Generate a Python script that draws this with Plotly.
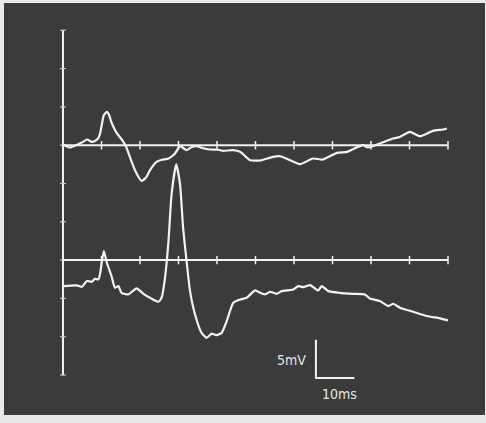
import plotly.graph_objects as go

# Time axis (ms) and voltage (mV, relative to each trace's baseline)
t1 = [0, 1.8, 3.4, 5.2, 6.2, 7.5, 8.3, 9.0, 9.6, 10.1, 10.6, 11.4, 12.0, 12.5, 13.0, 13.8, 14.8, 15.6,
      16.4, 17.4, 18.7, 20.4, 21.6, 22.6, 24.3, 25.7, 27.4, 29.1, 30.4, 32.1, 33.2, 34.7, 36.4, 38.2,
      40.3, 41.6, 44.2, 46.0, 48.6, 51.2, 54.5, 56.4, 59.0, 61.6, 64.9, 67.5, 71.2, 73.8, 75.8, 77.9,
      79.2, 82.3, 85.7, 87.5, 90.1, 92.7, 96.1, 98.7, 99.7]
v1 = [0.1, -0.3, 0.0, 0.43, 0.74, 0.43, 0.56, 0.8, 1.44, 2.74, 3.9, 4.35, 3.9, 3.1, 2.5, 1.7, 1.04, 0.5,
      -0.2, -1.57, -3.26, -4.66, -4.2, -3.26, -2.18, -1.9, -1.74, -1.08, -0.13, -0.65, -0.3, -0.13, -0.4,
      -0.56, -0.6, -0.74, -0.65, -0.87, -1.96, -2.0, -1.53, -1.44, -1.96, -2.48, -1.74, -1.87, -1.0, -0.87,
      -0.4, 0.0, -0.3, 0.22, 0.87, 1.08, 1.74, 1.17, 1.87, 2.05, 2.18]

t2 = [0, 3.6, 4.9, 6.2, 7.5, 8.3, 9.2, 9.6, 10.6, 11.4, 12.6, 13.5, 14.4, 15.2, 17.0, 19.1, 20.9,
      22.6, 24.8, 25.6, 26.5, 27.4, 28.2, 29.4, 30.4, 31.2, 32.1, 33.0, 34.3, 36.0, 37.3, 38.6,
      39.9, 41.2, 42.5, 44.2, 46.0, 47.7, 49.9, 51.2, 52.5, 53.8, 55.5, 56.8, 59.8, 61.1, 62.4,
      64.2, 66.3, 67.2, 68.9, 71.9, 75.4, 78.4, 79.7, 82.3, 84.5, 85.8, 87.5, 91.0, 94.5, 97.9, 100]
v2 = [-3.4, -3.3, -3.5, -2.74, -2.83, -2.44, -2.52, -1.87, 1.17, -0.35, -2.09, -3.62, -3.39, -4.27,
      -4.48, -3.69, -4.4, -4.92, -5.44, -4.92, -2.31, 2.48, 8.58, 12.5, 9.9, 4.2, -0.13, -4.05, -7.1,
      -9.5, -10.15, -9.6, -9.8, -9.5, -8.0, -5.6, -5.15, -4.92, -3.96, -4.27, -4.48, -4.14, -4.4,
      -4.05, -3.83, -3.39, -3.53, -3.26, -3.96, -3.39, -4.05, -4.27, -4.4, -4.48, -5.0, -5.35, -6.0,
      -5.7, -6.22, -6.75, -7.3, -7.6, -7.87]

baselines = [30, 15]          # mV offsets of the two traces
x_ticks = list(range(0, 101, 10))   # ms
y_ticks = list(range(0, 46, 5))     # mV

scale_ms = 10
scale_mv = 5

WHITE = "#f2f2f2"
BG = "#3b3b3b"
FONT = "Liberation Sans Narrow, DejaVu Sans Condensed, Arial"

fig = go.Figure()

# vertical axis
fig.add_trace(go.Scatter(x=[0] * len(y_ticks), y=y_ticks, mode="lines+markers",
                         line=dict(color=WHITE, width=2),
                         marker=dict(symbol="line-ew", size=4, line=dict(color="#cfcfcf", width=1.2)),
                         hoverinfo="skip"))

# baselines with tick marks
for b in baselines:
    fig.add_trace(go.Scatter(x=x_ticks, y=[b] * len(x_ticks), mode="lines+markers",
                             line=dict(color=WHITE, width=2),
                             marker=dict(symbol="line-ns", size=6, line=dict(color=WHITE, width=1.5)),
                             hoverinfo="skip"))

# traces
for t, v, b in [(t1, v1, baselines[0]), (t2, v2, baselines[1])]:
    fig.add_trace(go.Scatter(x=t, y=[b + vv for vv in v], mode="lines",
                             line=dict(color=WHITE, width=2.2, shape="spline", smoothing=0.5)))

# scale bar
sx, sy = 65.7, -0.4
fig.add_trace(go.Scatter(x=[sx, sx, sx + scale_ms], y=[sy + scale_mv, sy, sy], mode="lines",
                         line=dict(color=WHITE, width=2), hoverinfo="skip"))

fig.add_annotation(x=sx - 2.0, y=sy + 2.3, text="5mV", showarrow=False, xanchor="right",
                   font=dict(family=FONT, size=14, color="#e6e6e6"))
fig.add_annotation(x=sx + 6.0, y=sy - 2.1, text="10ms", showarrow=False, xanchor="center",
                   font=dict(family=FONT, size=14, color="#e6e6e6"))

fig.update_layout(
    width=486, height=423,
    margin=dict(l=4, r=1, t=3, b=8),
    paper_bgcolor="#e9e9e9",
    plot_bgcolor=BG,
    showlegend=False,
    xaxis=dict(range=[-15.32, 109.61], visible=False, fixedrange=True),
    yaxis=dict(range=[-5.22, 48.56], visible=False, fixedrange=True),
)

fig.write_html("out.html")
